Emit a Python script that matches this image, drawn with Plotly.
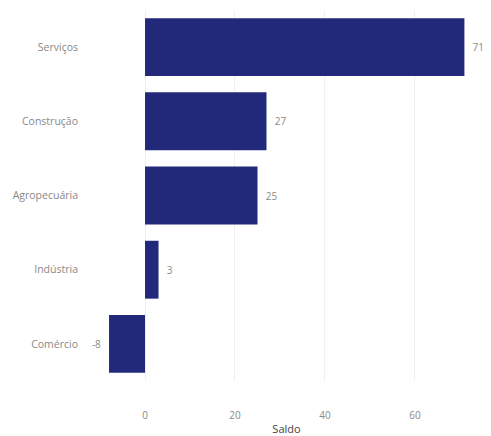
import plotly.graph_objects as go

categorias = ["Comércio", "Indústria", "Agropecuária", "Construção", "Serviços"]
saldo = [-8, 3, 25, 27, 71]
tick_vals = [0, 20, 40, 60]

pad = "\u00a0\u00a0"
rotulos = [(str(v) + pad) if v < 0 else (pad + str(v)) for v in saldo]

fig = go.Figure(go.Bar(
    x=saldo,
    y=categorias,
    orientation="h",
    marker=dict(color="#22287a", line=dict(width=0)),
    text=rotulos,
    textposition="outside",
    textfont=dict(color="#8a8a8a", size=10, family="Open Sans"),
    cliponaxis=False,
))

fig.update_layout(
    width=483,
    height=428,
    margin=dict(l=79, r=5, t=2, b=55),
    plot_bgcolor="white",
    paper_bgcolor="white",
    bargap=0.22,
    showlegend=False,
    font=dict(family="Open Sans", color="#888888", size=10.5),
)
fig.update_xaxes(
    range=[-12.9, 75.8],
    tickvals=tick_vals,
    showgrid=True,
    gridcolor="#f0f0f0",
    zeroline=False,
    automargin=False,
    ticklabelstandoff=27,
    tickfont=dict(size=10),
    title=dict(text="Saldo", font=dict(size=11, color="#444444"), standoff=6),
)
fig.update_yaxes(
    showgrid=False,
    automargin=False,
    ticklabelstandoff=8,
)

fig.write_html("out.html")
